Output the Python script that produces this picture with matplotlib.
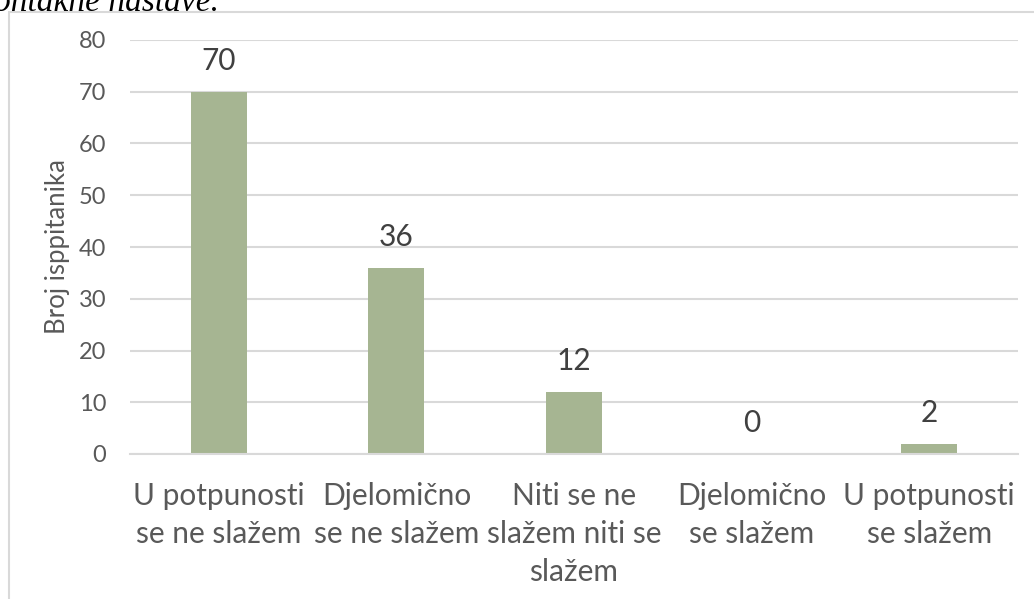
import matplotlib.pyplot as plt
from matplotlib.patches import Rectangle

categories = ['U potpunosti\nse ne slažem', 'Djelomično\nse ne slažem',
              'Niti se ne\nslažem niti se\nslažem', 'Djelomično\nse slažem',
              'U potpunosti\nse slažem']
counts = [70, 36, 12, 0, 2]
yticks = [0, 10, 20, 30, 40, 50, 60, 70, 80]

W, H = 1034, 599
fig = plt.figure(figsize=(W / 100, H / 100), dpi=100)
plt.rcParams['font.family'] = ['Lato', 'DejaVu Sans']

# chart area frame (cut off by page)
fig.patches.append(Rectangle((9 / W, -0.1), 1.1, (H - 12) / H + 0.1,
                             transform=fig.transFigure, fill=False,
                             edgecolor='#D9D9D9', linewidth=1.5))
# caption from the page above, cut off at the top
fig.text(-6 / W, 1 - 11 / H, 'ontakne nastave.', family='Liberation Serif',
         style='italic', fontsize=24, color='black', ha='left', va='baseline')

ax = fig.add_axes([130 / W, 145 / H, (1018 - 130) / W, 414 / H])
x = range(len(categories))
bars = ax.bar(x, counts, width=0.315, color='#A6B592', zorder=2)

for xi, v in zip(x, counts):
    ax.text(xi, v + 3.3, str(v), ha='center', va='bottom', fontsize=21.5,
            color='#404040')

ax.set_ylim(0, 80)
ax.set_xlim(-0.5, len(categories) - 0.5)
ax.set_yticks(yticks)
ax.yaxis.grid(True, color='#D9D9D9', linewidth=1.5, zorder=0)
ax.set_axisbelow(True)
for s in ['top', 'right', 'left']:
    ax.spines[s].set_visible(False)
ax.spines['bottom'].set_color('#D9D9D9')
ax.spines['bottom'].set_linewidth(1.5)
ax.tick_params(axis='both', length=0)
ax.tick_params(axis='y', labelsize=17, labelcolor='#595959', pad=17)
ax.set_xticks(list(x))
ax.set_xticklabels(categories, fontsize=21.5, color='#595959', linespacing=1.45)
ax.tick_params(axis='x', pad=20)
ax.set_ylabel('Broj isppitanika', fontsize=18.5, color='#595959', labelpad=6)

fig.savefig('out.png', dpi=100)
